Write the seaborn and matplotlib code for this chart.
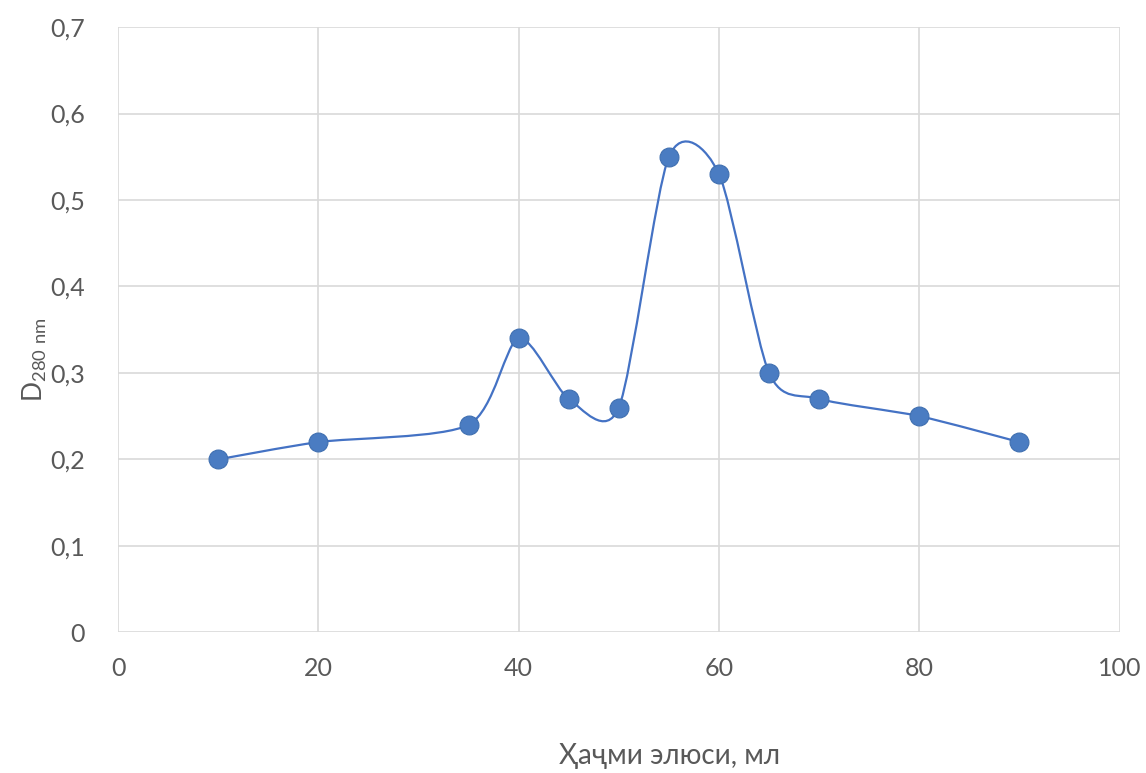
import numpy as np
import pandas as pd
import matplotlib
matplotlib.use("Agg")
import matplotlib.pyplot as plt
from matplotlib.path import Path
from matplotlib.patches import PathPatch
from matplotlib.ticker import FuncFormatter, MultipleLocator
import seaborn as sns

# elution volume (ml) and optical density at 280 nm
volume = [10, 20, 35, 40, 45, 50, 55, 60, 65, 70, 80, 90]
density = [0.20, 0.22, 0.24, 0.34, 0.27, 0.26, 0.55, 0.53, 0.30, 0.27, 0.25, 0.22]

x_label = "Ҳаҷми элюси, мл"
y_label = r"D$_{\mathregular{280\ nm}}$"

line_color = "#4472C4"
marker_color = "#4A7CC2"
text_color = "#595959"

sns.set_theme(style="whitegrid")
plt.rcParams["font.family"] = ["Lato", "Noto Sans", "DejaVu Sans"]

df = pd.DataFrame({"volume": volume, "density": density})

fig = plt.figure(figsize=(11.46, 7.73), dpi=100)
ax = fig.add_axes([0.103, 0.182, 0.874, 0.783])


def smooth_path(xs, ys, k=0.13):
    # excel-like smoothed line: cubic bezier segments through the points
    pts = np.column_stack([xs, ys]).astype(float)
    n = len(pts)
    verts = [pts[0]]
    codes = [Path.MOVETO]
    for i in range(n - 1):
        p0 = pts[max(i - 1, 0)]
        p1 = pts[i]
        p2 = pts[i + 1]
        p3 = pts[min(i + 2, n - 1)]
        c1 = p1 + (p2 - p0) * k
        c2 = p2 - (p3 - p1) * k
        verts += [c1, c2, p2]
        codes += [Path.CURVE4] * 3
    return Path(verts, codes)


ax.add_patch(PathPatch(smooth_path(df["volume"], df["density"]),
                       facecolor="none", edgecolor=line_color, lw=1.6, zorder=3))
sns.scatterplot(data=df, x="volume", y="density", ax=ax, s=185,
                color=marker_color, edgecolor="#3F6FB0", linewidth=0.8, zorder=4)

ax.set_xlim(0, 100)
ax.set_ylim(0, 0.7)
ax.xaxis.set_major_locator(MultipleLocator(20))
ax.yaxis.set_major_locator(MultipleLocator(0.1))


def comma_fmt(v, pos):
    if abs(v) < 1e-9:
        return "0"
    return f"{v:.1f}".replace(".", ",")


ax.yaxis.set_major_formatter(FuncFormatter(comma_fmt))
ax.grid(True, color="#D9D9D9", lw=1.2)
for s in ax.spines.values():
    s.set_visible(False)
ax.tick_params(axis="both", colors=text_color, labelsize=18, length=0)
ax.tick_params(axis="x", pad=18)
ax.tick_params(axis="y", pad=24)

ax.set_xlabel(x_label, fontsize=20, color=text_color)
ax.xaxis.set_label_coords(0.551, -0.183)
ax.set_ylabel(y_label, fontsize=19, color=text_color, va="center")
ax.yaxis.set_label_coords(-0.083, 0.45)

fig.savefig("out.png", dpi=100)
